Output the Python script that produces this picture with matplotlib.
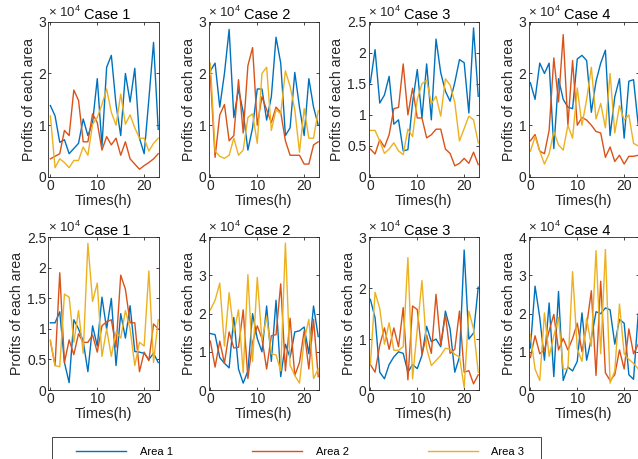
import numpy as np
import matplotlib
matplotlib.use("Agg")
import matplotlib.pyplot as plt
from matplotlib.patches import Rectangle

plt.rcParams['font.family'] = ['Liberation Sans', 'DejaVu Sans']
plt.rcParams['mathtext.fontset'] = 'custom'
plt.rcParams['mathtext.rm'] = 'Liberation Sans'
plt.rcParams['mathtext.it'] = 'Liberation Sans:italic'

# hours
hours = list(range(24))
cases = ["Case 1", "Case 2", "Case 3", "Case 4"]
series_names = ["Area 1", "Area 2", "Area 3"]

# profits in units of 10^4 -- top row
top_c1_a1 = [1.38, 1.18, 0.67, 0.72, 0.45, 0.55, 0.65, 1.12, 0.80, 1.05, 1.90, 0.60, 2.12, 2.35, 1.40, 0.80, 2.00, 1.45, 2.10, 0.75, 0.45, 1.50, 2.60, 0.92]
top_c1_a2 = [0.35, 0.40, 0.45, 0.90, 0.80, 1.68, 1.48, 0.68, 0.68, 1.22, 1.05, 0.52, 0.78, 0.62, 0.75, 0.42, 0.68, 0.35, 0.25, 0.15, 0.22, 0.28, 0.35, 0.45]
top_c1_a3 = [1.18, 0.18, 0.35, 0.28, 0.18, 0.32, 0.32, 0.58, 0.42, 1.02, 1.15, 1.40, 1.70, 1.25, 1.00, 1.60, 1.02, 1.20, 0.95, 0.75, 0.75, 0.50, 0.65, 0.75]

top_c2_a1 = [2.05, 2.20, 1.35, 2.00, 2.85, 1.15, 1.70, 1.25, 0.52, 0.95, 1.70, 1.70, 1.10, 1.55, 2.70, 2.20, 0.80, 0.95, 2.02, 1.35, 0.80, 1.90, 1.35, 1.00]
top_c2_a2 = [1.95, 0.38, 1.20, 1.40, 0.70, 0.80, 1.88, 0.85, 2.15, 2.50, 1.00, 1.55, 1.30, 1.05, 1.35, 1.25, 0.70, 0.42, 0.42, 0.42, 0.25, 0.25, 0.62, 0.68]
top_c2_a3 = [2.20, 0.50, 0.40, 0.36, 0.42, 0.75, 0.42, 0.52, 1.15, 1.22, 0.65, 2.00, 2.12, 0.90, 1.30, 1.22, 2.05, 1.75, 1.30, 0.48, 1.32, 0.75, 0.75, 1.28]

top_c3_a1 = [1.52, 2.05, 1.19, 1.32, 1.62, 0.85, 0.92, 0.42, 0.44, 1.20, 1.73, 0.95, 1.82, 0.92, 2.22, 1.68, 1.38, 1.22, 1.52, 1.89, 1.84, 1.03, 2.40, 1.30]
top_c3_a2 = [0.45, 0.37, 0.60, 0.48, 0.68, 1.10, 1.12, 1.82, 1.00, 1.43, 0.95, 0.95, 0.63, 0.68, 0.77, 0.77, 0.45, 0.38, 0.18, 0.22, 0.30, 0.22, 0.40, 0.20]
top_c3_a3 = [0.75, 0.75, 0.58, 0.38, 0.45, 0.55, 0.42, 0.36, 0.77, 0.65, 1.25, 1.50, 1.56, 1.18, 1.30, 0.98, 1.58, 1.48, 1.20, 0.58, 0.78, 0.98, 0.92, 0.55]

top_c4_a1 = [1.82, 1.50, 2.20, 2.00, 2.20, 0.55, 1.90, 1.50, 1.35, 1.32, 2.28, 2.35, 2.25, 1.25, 1.85, 2.20, 2.45, 0.80, 1.55, 1.90, 0.75, 1.85, 1.88, 1.00]
top_c4_a2 = [0.70, 0.82, 0.50, 0.45, 0.90, 2.30, 1.45, 2.75, 1.00, 2.25, 1.00, 1.15, 1.10, 1.00, 0.88, 0.85, 0.38, 0.58, 0.30, 0.42, 0.25, 0.40, 0.40, 0.42]
top_c4_a3 = [0.50, 0.78, 0.50, 0.25, 0.45, 0.88, 0.62, 0.52, 1.00, 0.75, 1.72, 1.00, 1.50, 2.12, 1.12, 1.42, 0.95, 2.00, 0.85, 1.38, 1.10, 1.20, 0.65, 0.60]

# bottom row
bot_c1_a1 = [1.10, 1.10, 1.28, 0.45, 0.12, 1.15, 1.00, 0.80, 0.30, 1.05, 0.72, 1.52, 1.00, 1.50, 0.40, 1.25, 0.85, 1.38, 0.63, 0.62, 0.60, 0.50, 0.60, 0.45]
bot_c1_a2 = [0.80, 0.40, 1.92, 0.45, 0.82, 0.58, 0.92, 0.78, 0.78, 0.90, 0.62, 1.05, 1.12, 1.15, 0.70, 1.88, 1.65, 1.10, 1.10, 0.30, 0.62, 0.48, 1.08, 1.00]
bot_c1_a3 = [0.82, 0.40, 0.38, 1.57, 1.52, 0.78, 1.30, 0.60, 2.40, 1.45, 1.75, 0.55, 1.00, 0.55, 0.95, 0.85, 1.30, 1.00, 0.40, 0.78, 0.72, 1.95, 0.45, 1.15]

bot_c2_a1 = [1.48, 1.45, 0.85, 0.70, 0.58, 1.90, 0.55, 0.18, 0.50, 2.00, 1.35, 1.00, 2.20, 0.75, 2.35, 0.35, 1.20, 0.85, 1.52, 1.55, 1.65, 0.95, 2.20, 1.40]
bot_c2_a2 = [1.28, 0.60, 1.28, 0.70, 1.52, 1.10, 1.12, 2.10, 0.30, 1.25, 1.68, 1.35, 0.55, 1.42, 1.45, 2.78, 0.50, 1.88, 0.38, 0.72, 1.55, 0.55, 1.85, 0.35]
bot_c2_a3 = [2.10, 2.35, 2.80, 1.15, 2.55, 1.50, 2.10, 0.45, 3.02, 0.75, 2.95, 1.30, 1.92, 0.95, 0.92, 0.50, 3.85, 0.65, 0.38, 0.18, 1.30, 1.85, 0.30, 0.55]

bot_c3_a1 = [1.78, 1.42, 0.35, 0.22, 0.50, 0.65, 0.75, 0.72, 0.35, 0.50, 0.42, 0.68, 1.25, 0.95, 1.00, 0.85, 1.55, 1.20, 0.35, 0.65, 2.75, 1.00, 1.12, 2.02]
bot_c3_a2 = [0.50, 0.35, 0.88, 1.22, 0.80, 1.22, 0.85, 1.62, 0.20, 1.65, 1.58, 0.70, 1.08, 0.72, 1.88, 0.88, 1.48, 0.72, 0.80, 1.55, 0.35, 0.38, 0.12, 0.30]
bot_c3_a3 = [0.50, 1.92, 1.60, 0.90, 1.32, 0.78, 0.78, 0.85, 2.60, 0.22, 1.20, 2.15, 0.82, 0.48, 0.58, 0.68, 0.82, 0.80, 0.70, 0.65, 0.05, 1.55, 1.20, 0.35]

bot_c4_a1 = [1.10, 2.72, 1.90, 0.78, 2.28, 0.35, 2.58, 0.25, 0.60, 0.50, 0.75, 2.02, 0.78, 1.35, 2.05, 2.00, 2.15, 2.10, 1.20, 1.85, 1.75, 0.40, 0.28, 2.00]
bot_c4_a2 = [0.85, 1.42, 0.95, 1.05, 1.55, 1.98, 1.05, 1.35, 1.05, 1.35, 1.75, 1.00, 1.68, 2.60, 0.38, 2.85, 0.45, 0.25, 0.40, 1.05, 0.55, 1.60, 0.95, 1.20]
bot_c4_a3 = [1.45, 0.55, 0.25, 2.02, 0.88, 1.42, 1.90, 0.55, 0.55, 3.10, 1.08, 0.75, 1.88, 1.15, 3.65, 0.95, 3.68, 0.18, 0.50, 2.25, 0.95, 0.80, 0.70, 0.55]

top_data = [(top_c1_a1, top_c1_a2, top_c1_a3), (top_c2_a1, top_c2_a2, top_c2_a3),
            (top_c3_a1, top_c3_a2, top_c3_a3), (top_c4_a1, top_c4_a2, top_c4_a3)]
bot_data = [(bot_c1_a1, bot_c1_a2, bot_c1_a3), (bot_c2_a1, bot_c2_a2, bot_c2_a3),
            (bot_c3_a1, bot_c3_a2, bot_c3_a3), (bot_c4_a1, bot_c4_a2, bot_c4_a3)]

top_ylims = [3, 3, 2.5, 3]
bot_ylims = [2.5, 4, 3, 4]
top_yticks = [[0, 1, 2, 3], [0, 1, 2, 3], [0, 0.5, 1, 1.5, 2, 2.5], [0, 1, 2, 3]]
bot_yticks = [[0, 0.5, 1, 1.5, 2, 2.5], [0, 1, 2, 3, 4], [0, 1, 2, 3], [0, 1, 2, 3, 4]]
xticks = [0, 10, 20]

colors = ['#0072BD', '#D95319', '#EDB120']
W, H = 638, 459
fig = plt.figure(figsize=(W / 100, H / 100), dpi=100)

lefts = [48.5, 208.5, 368.5, 528.5]
axw = 110.2
rows = [(21.7, 177.0, top_data, top_ylims, top_yticks),
        (237.3, 390.0, bot_data, bot_ylims, bot_yticks)]

txtc = '#262626'
fs = 10.5
handles = None
for (ytop, ybot, data, ylims, ytick_sets) in rows:
    for j in range(4):
        ax = fig.add_axes([lefts[j] / W, 1 - ybot / H, axw / W, (ybot - ytop) / H])
        hs = []
        for k in range(3):
            h, = ax.plot(hours, data[j][k], color=colors[k], lw=1.0, label=series_names[k])
            hs.append(h)
        handles = hs
        ax.set_xlim(-0.4, 23.1)
        ax.set_ylim(0, ylims[j])
        ax.set_xticks(xticks)
        yt = ytick_sets[j]
        ax.set_yticks(yt)
        ax.set_yticklabels([('%g' % v) for v in yt])
        ax.tick_params(direction='in', length=2.5, width=0.6, labelsize=10,
                       colors=txtc, pad=1.5, top=True, right=True)
        for s in ax.spines.values():
            s.set_color('#262626')
            s.set_linewidth(0.6)
        ax.set_xlabel('Times(h)', fontsize=fs, color=txtc, labelpad=1)
        ax.set_ylabel('Profits of each area', fontsize=fs * 0.97, color=txtc, labelpad=2)
        ax.set_title(cases[j], fontsize=fs, color='black', pad=2, x=0.535)
        ax.text(0.0, 1.012, r'$\times\ 10^4$', transform=ax.transAxes, ha='left',
                va='bottom', fontsize=9.5, color=txtc)

leg = fig.legend(handles, series_names, loc='center left',
                 bbox_to_anchor=(76 / W, 1 - 451.7 / H),
                 ncol=3, fontsize=8, frameon=False,
                 handlelength=4.5, handletextpad=1.25, columnspacing=7.1,
                 borderpad=0, borderaxespad=0)
box = Rectangle((52 / W, -0.05), (541 - 52) / W, 1 - 437 / H + 0.05,
                transform=fig.transFigure, fill=False, edgecolor='#262626',
                linewidth=0.6, clip_on=False)
fig.patches.append(box)

fig.savefig('out.png', dpi=100)
